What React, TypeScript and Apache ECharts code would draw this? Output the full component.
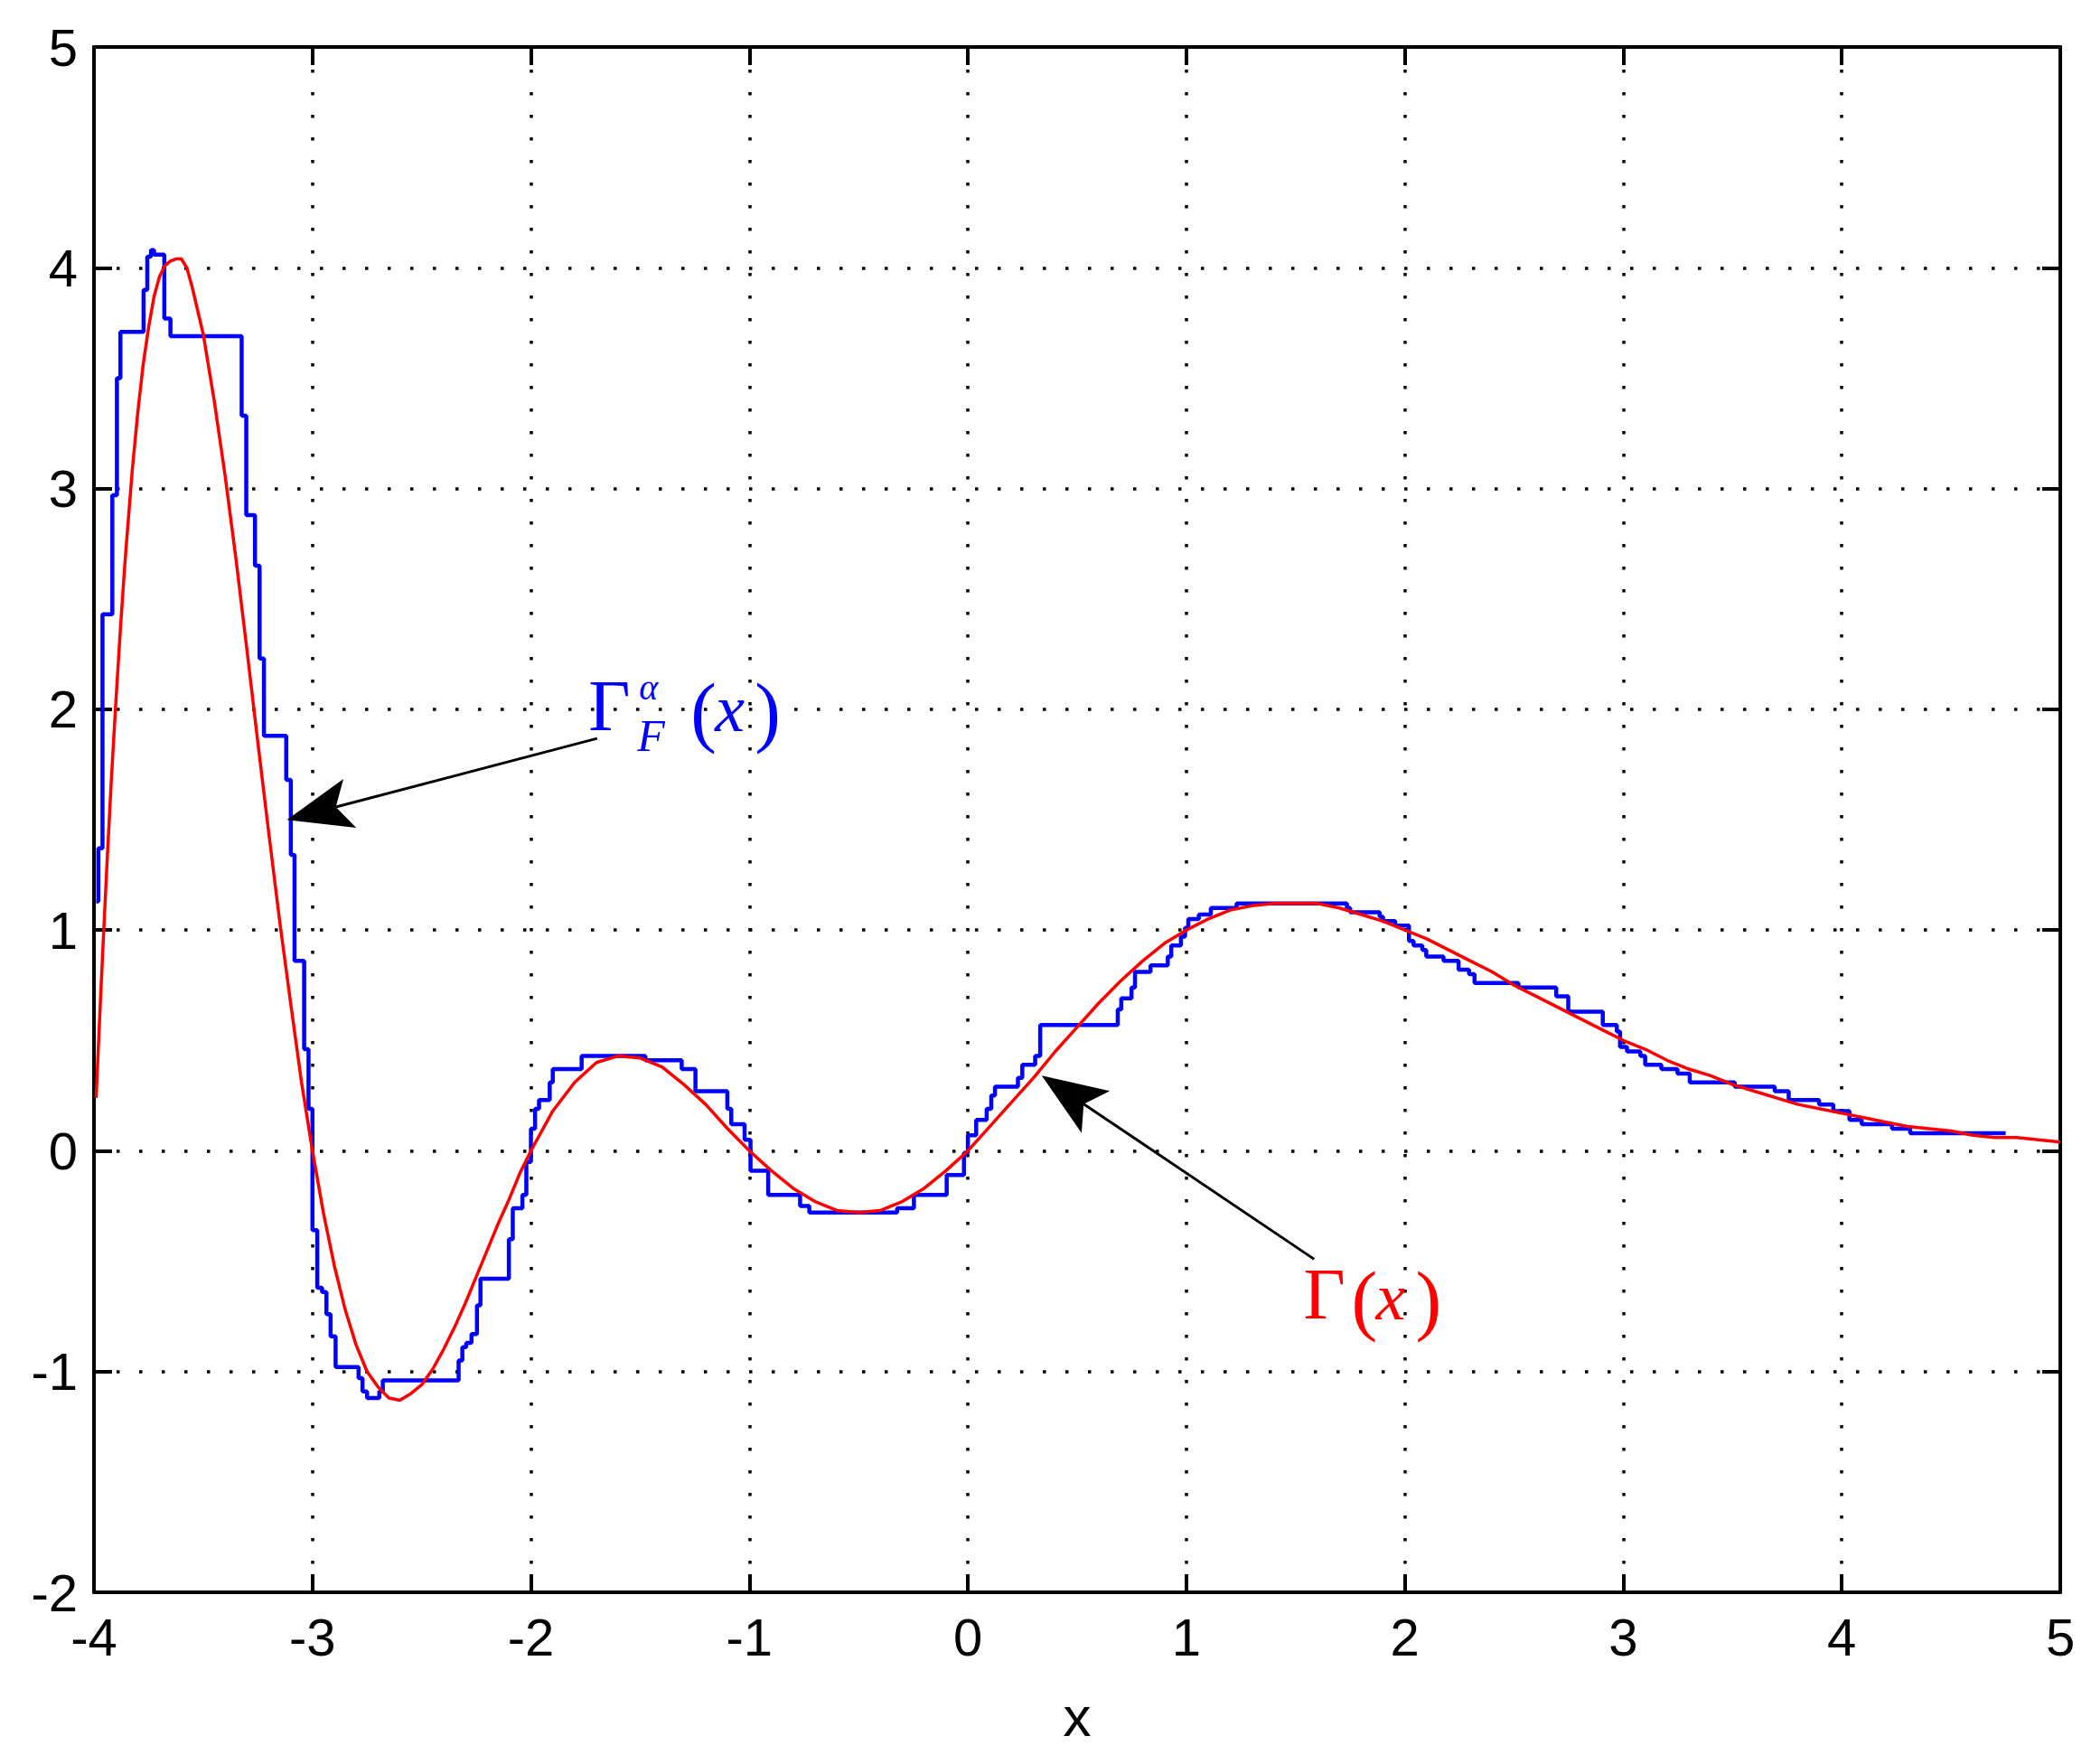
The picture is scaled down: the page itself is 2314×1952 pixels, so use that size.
import React, { useEffect, useRef } from "react";
import * as echarts from "echarts";

// ---- data ----
const xMin = -4, xMax = 5, xStep = 1;
const yMin = -2, yMax = 5, yStep = 1;

// red smooth curve Γ(x)
const redX = [
  -3.99, -3.98, -3.97, -3.96, -3.94, -3.92, -3.9, -3.88, -3.86, -3.85, -3.825, -3.8, -3.775, -3.75, -3.725,
  -3.7, -3.675, -3.65, -3.625, -3.6, -3.575, -3.55, -3.5, -3.45, -3.4, -3.35, -3.3, -3.25, -3.2, -3.15, -3.1,
  -3.05, -3, -2.95, -2.9, -2.85, -2.8, -2.75, -2.7, -2.65, -2.6, -2.55, -2.5, -2.45, -2.4, -2.35, -2.3, -2.25,
  -2.2, -2.15, -2.1, -2.05, -2, -1.9, -1.8, -1.7, -1.6, -1.5, -1.4, -1.3, -1.2, -1.1, -1, -0.9, -0.8, -0.7,
  -0.6, -0.5, -0.4, -0.3, -0.2, -0.1, 0, 0.1, 0.2, 0.3, 0.4, 0.5, 0.6, 0.7, 0.8, 0.9, 1, 1.1, 1.2, 1.3, 1.4,
  1.5, 1.6, 1.7, 1.8, 1.9, 2, 2.1, 2.2, 2.3, 2.4, 2.5, 2.6, 2.7, 2.8, 2.9, 3, 3.1, 3.2, 3.3, 3.4, 3.5, 3.6,
  3.7, 3.8, 3.9, 4, 4.1, 4.2, 4.3, 4.4, 4.5, 4.6, 4.7, 4.8, 4.9, 5,
];
const redY = [
  0.24, 0.47, 0.69, 0.9, 1.31, 1.69, 2.03, 2.35, 2.64, 2.77, 3.08, 3.34, 3.56, 3.73, 3.87,
  3.96, 4.01, 4.03, 4.04, 4.04, 4.0, 3.91, 3.7, 3.4, 3.06, 2.68, 2.27, 1.85, 1.44, 1.04, 0.67,
  0.31, 0.0, -0.28, -0.52, -0.72, -0.88, -1.0, -1.07, -1.12, -1.13, -1.1, -1.06, -0.99, -0.9, -0.8, -0.69, -0.57,
  -0.45, -0.33, -0.22, -0.1, 0.0, 0.18, 0.31, 0.4, 0.43, 0.42, 0.38, 0.3, 0.21, 0.1, 0.0, -0.09, -0.17, -0.23,
  -0.27, -0.28, -0.27, -0.23, -0.17, -0.09, 0.0, 0.11, 0.22, 0.33, 0.45, 0.56, 0.67, 0.77, 0.86, 0.94, 1.0, 1.05, 1.09, 1.11, 1.12,
  1.12, 1.12, 1.1, 1.07, 1.04, 1.0, 0.96, 0.91, 0.86, 0.81, 0.75, 0.7, 0.65, 0.6, 0.55, 0.5, 0.46, 0.41, 0.37, 0.34, 0.3, 0.27,
  0.24, 0.21, 0.19, 0.17, 0.15, 0.13, 0.11, 0.1, 0.09, 0.07, 0.06, 0.06, 0.05, 0.04,
];

// blue staircase Γ_F^α(x): [x where the step starts, value]
const blueSteps: [number, number][] = [
  [-3.99, 1.13], [-3.98, 1.37], [-3.961, 2.43], [-3.916, 2.97], [-3.895, 3.5], [-3.879, 3.71],
  [-3.773, 3.9], [-3.756, 4.05], [-3.739, 4.08], [-3.725, 4.06], [-3.678, 3.77], [-3.65, 3.69],
  [-3.324, 3.33], [-3.303, 2.88], [-3.263, 2.65], [-3.242, 2.23], [-3.222, 1.88], [-3.12, 1.68],
  [-3.099, 1.34], [-3.082, 0.86], [-3.038, 0.46], [-3.018, 0.19], [-3.0, -0.36], [-2.978, -0.62],
  [-2.956, -0.64], [-2.936, -0.74], [-2.917, -0.84], [-2.894, -0.98], [-2.789, -1.03], [-2.771, -1.09],
  [-2.75, -1.12], [-2.694, -1.09], [-2.678, -1.04], [-2.331, -0.95], [-2.314, -0.89], [-2.296, -0.87],
  [-2.272, -0.83], [-2.247, -0.7], [-2.231, -0.58], [-2.101, -0.4], [-2.083, -0.26], [-2.039, -0.2],
  [-2.021, -0.05], [-2.0, 0.1], [-1.981, 0.19], [-1.963, 0.23], [-1.914, 0.31], [-1.9, 0.37],
  [-1.768, 0.43], [-1.476, 0.41], [-1.31, 0.37], [-1.247, 0.27], [-1.101, 0.19], [-1.083, 0.12],
  [-1.022, 0.05], [-0.995, -0.09], [-0.914, -0.2], [-0.768, -0.25], [-0.726, -0.28], [-0.324, -0.26],
  [-0.247, -0.2], [-0.097, -0.11], [-0.018, -0.01], [0.0, 0.07], [0.038, 0.14], [0.086, 0.19],
  [0.107, 0.25], [0.124, 0.29], [0.229, 0.33], [0.249, 0.39], [0.308, 0.43], [0.331, 0.57],
  [0.686, 0.64], [0.702, 0.69], [0.749, 0.74], [0.765, 0.81], [0.836, 0.84], [0.915, 0.88],
  [0.931, 0.93], [0.975, 0.97], [0.994, 1.01], [1.009, 1.05], [1.057, 1.07], [1.112, 1.1],
  [1.23, 1.12], [1.735, 1.1], [1.75, 1.08], [1.885, 1.06], [1.9, 1.04], [1.956, 1.02],
  [2.019, 0.95], [2.04, 0.93], [2.08, 0.91], [2.098, 0.88], [2.177, 0.86], [2.246, 0.82],
  [2.294, 0.8], [2.319, 0.76], [2.52, 0.74], [2.693, 0.7], [2.748, 0.63], [2.906, 0.57],
  [2.97, 0.54], [2.985, 0.47], [3.017, 0.45], [3.078, 0.43], [3.1, 0.39], [3.174, 0.37],
  [3.248, 0.35], [3.304, 0.31], [3.51, 0.29], [3.693, 0.27], [3.757, 0.23], [3.896, 0.21],
  [3.961, 0.18], [4.035, 0.14], [4.091, 0.12], [4.23, 0.1], [4.313, 0.08], [4.75, 0.08],
];

// annotations (data coordinates)
const arrowBlue = { from: [-1.697, 1.868], to: [-3.117, 1.499] };
const arrowRed = { from: [1.585, -0.491], to: [0.338, 0.34] };
const blueLabelAt = [-1.737, 2.014];
const redLabelAt = [1.536, -0.651];

const BLUE = "#0000ff";
const RED = "#ff0000";
const SANS = '"Liberation Sans", Arial, Helvetica, sans-serif';
const SERIF = '"Liberation Serif", "DejaVu Serif", "Times New Roman", serif';

export default function App() {
  const ref = useRef<HTMLDivElement>(null);

  useEffect(() => {
    const chart = echarts.init(ref.current as HTMLDivElement, null, { renderer: "svg" });

    const frameLine = { show: true, onZero: false, lineStyle: { color: "#000", width: 4 } };
    const tick = { show: true, inside: true, length: 20, lineStyle: { color: "#000", width: 4 } };
    const dotted = { show: true, lineStyle: { color: "#000", width: 3.5, type: [3.5, 21.5], cap: "butt" } };
    const label = { color: "#000", fontSize: 58, fontFamily: SANS };

    chart.setOption({
      animation: false,
      backgroundColor: "#ffffff",
      grid: { left: 104, top: 52, width: 2176, height: 1710, containLabel: false },
      xAxis: [
        {
          type: "value", min: xMin, max: xMax, interval: xStep, position: "bottom",
          name: "x", nameLocation: "middle", nameGap: 106,
          nameTextStyle: { color: "#000", fontSize: 62, fontFamily: SANS },
          axisLine: frameLine, axisTick: tick,
          axisLabel: { ...label, margin: 20 },
          splitLine: dotted,
        },
        {
          type: "value", min: xMin, max: xMax, interval: xStep, position: "top",
          axisLine: frameLine, axisTick: tick, axisLabel: { show: false }, splitLine: { show: false },
        },
      ],
      yAxis: [
        {
          type: "value", min: yMin, max: yMax, interval: yStep, position: "left",
          axisLine: frameLine, axisTick: tick,
          axisLabel: { ...label, margin: 18 },
          splitLine: dotted,
        },
        {
          type: "value", min: yMin, max: yMax, interval: yStep, position: "right",
          axisLine: frameLine, axisTick: tick, axisLabel: { show: false }, splitLine: { show: false },
        },
      ],
      series: [
        {
          type: "line", step: "end", data: blueSteps, showSymbol: false, symbol: "none",
          lineStyle: { color: BLUE, width: 4.5 }, z: 2, silent: true,
        },
        {
          type: "line", data: redX.map((x, i) => [x, redY[i]]), showSymbol: false, symbol: "none",
          lineStyle: { color: RED, width: 3.5 }, z: 3, silent: true,
        },
      ],
    });

    const px = (c: number[]) => chart.convertToPixel({ gridIndex: 0 }, c) as number[];

    const arrow = (a: { from: number[]; to: number[] }) => {
      const tail = px(a.from);
      const tip = px(a.to);
      const dx = tail[0] - tip[0], dy = tail[1] - tip[1];
      const len = Math.hypot(dx, dy);
      const ux = dx / len, uy = dy / len;
      const nx = -uy, ny = ux;
      const L = 72, W = 28, N = 56;
      return [
        {
          type: "line", z: 10, silent: true,
          shape: { x1: tip[0] + N * ux, y1: tip[1] + N * uy, x2: tail[0], y2: tail[1] },
          style: { stroke: "#000", lineWidth: 3 },
        },
        {
          type: "polygon", z: 10, silent: true,
          shape: {
            points: [
              [tip[0], tip[1]],
              [tip[0] + L * ux - W * nx, tip[1] + L * uy - W * ny],
              [tip[0] + N * ux, tip[1] + N * uy],
              [tip[0] + L * ux + W * nx, tip[1] + L * uy + W * ny],
            ],
          },
          style: { fill: "#000" },
        },
      ];
    };

    const txt = (x: number, y: number, text: string, font: string, fill: string) => ({
      type: "text", z: 11, silent: true, x, y,
      style: {
        text, font, fill,
        align: "left", verticalAlign: "middle", textAlign: "left", textVerticalAlign: "middle",
      },
    });

    const b = px(blueLabelAt);
    const r = px(redLabelAt);
    const bigSerif = `normal 80px ${SERIF}`;
    const parenFont = `normal 86px ${SERIF}`;
    const xFont = `italic 74px ${SERIF}`;

    chart.setOption({
      graphic: [
        ...arrow(arrowBlue),
        ...arrow(arrowRed),
        txt(b[0], b[1], "Γ", bigSerif, BLUE),
        txt(b[0] + 56, b[1] - 21, "α", `italic 40px ${SERIF}`, BLUE),
        txt(b[0] + 54, b[1] + 33, "F", `italic 50px ${SERIF}`, BLUE),
        txt(b[0] + 113, b[1] + 6, "(", parenFont, BLUE),
        txt(b[0] + 140, b[1] + 3, "x", xFont, BLUE),
        txt(b[0] + 184, b[1] + 6, ")", parenFont, BLUE),
        txt(r[0], r[1], "Γ", bigSerif, RED),
        txt(r[0] + 53, r[1] + 6, "(", parenFont, RED),
        txt(r[0] + 80, r[1] + 3, "x", xFont, RED),
        txt(r[0] + 124, r[1] + 6, ")", parenFont, RED),
      ],
    });

    return () => chart.dispose();
  }, []);

  return (
    <div
      ref={ref}
      style={{ position: "fixed", left: 0, top: 0, width: 2314, height: 1952, background: "#ffffff" }}
    />
  );
}
